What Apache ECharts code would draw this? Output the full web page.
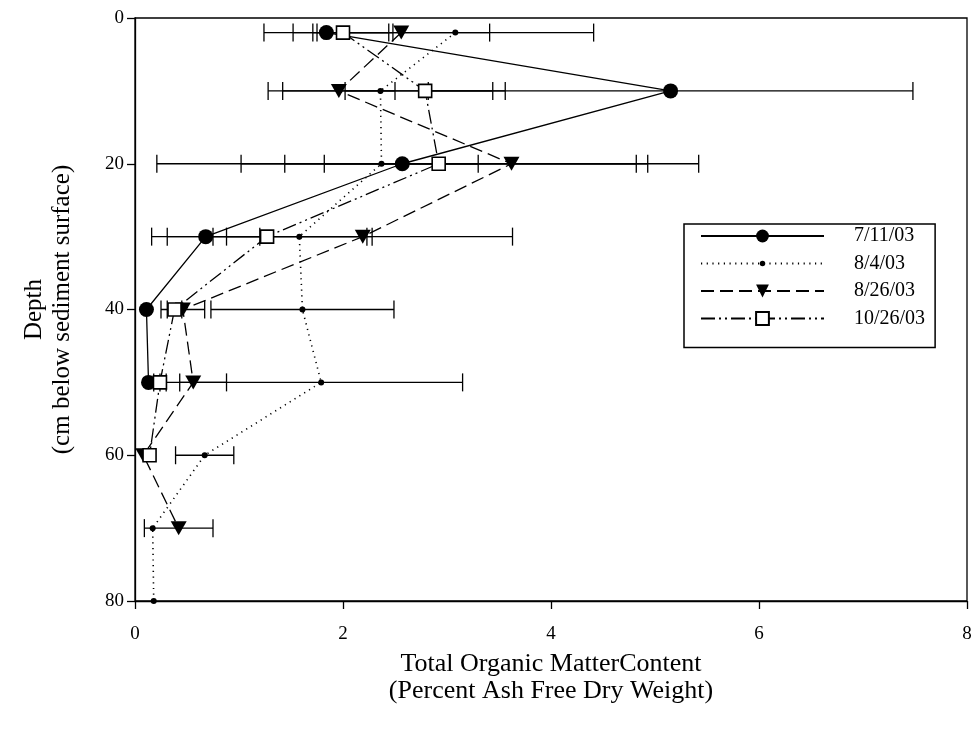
<!DOCTYPE html>
<html lang="en">
<head>
    <meta charset="UTF-8">
    <title>Organic matter by depth</title>
    <script src="https://cdn.jsdelivr.net/npm/echarts@6/dist/echarts.min.js"></script>
    <style>
    body{ margin:0; background:#fff; }
    #main{ width:976px; height:733px; }
    </style>
</head>
<body>
<div id="main"></div>
<script>
// sample depths (cm) shared by all dates
var depths = [2, 10, 20, 30, 40, 50, 60, 70, 80];
var seriesNames = ['7/11/03', '8/4/03', '8/26/03', '10/26/03'];

// % AFDW per date, and the +/- error
var jul11 = [1.84, 5.15, 2.57, 0.68, 0.11, 0.13];
var jul11Err = [0.60, 2.33, 2.36, 0.52, 0, 0];
var aug4 = [3.08, 2.36, 2.37, 1.58, 1.61, 1.79, 0.67, 0.17, 0.18];
var aug4Err = [1.33, 1.08, 0.93, 0.70, 0.88, 1.36, 0.28, 0, 0];
var aug26 = [2.56, 1.96, 3.62, 2.19, 0.46, 0.56, 0.08, 0.42];
var aug26Err = [0.85, 0.54, 1.80, 1.44, 0.21, 0.32, 0, 0.33];
var oct26 = [2.00, 2.79, 2.92, 1.27, 0.38, 0.24, 0.14];
var oct26Err = [0.48, 0.77, 1.90, 0.96, 0.07, 0.06, 0];

var xTicks = [0, 2, 4, 6, 8];
var yTicks = [0, 20, 40, 60, 80];

var font = 'Liberation Serif, Times New Roman, serif';

function pts(vals){
    return vals.map(function(v, i){ return [v, depths[i]]; });
}
// error bar rows: [mean, depth, err]
var errRows = [];
[[jul11, jul11Err], [aug4, aug4Err], [aug26, aug26Err], [oct26, oct26Err]].forEach(function(p){
    p[0].forEach(function(v, i){
        if (p[1][i] > 0) errRows.push([v, depths[i], p[1][i]]);
    });
});

var myChart = echarts.init(document.getElementById('main'));
var lineW = 1.3;
var option = {
    animation: false,
    backgroundColor: '#fff',
    grid: {
        left: 135, right: 9, top: 18, bottom: 132,
        show: true, borderColor: '#000', borderWidth: lineW, backgroundColor: 'transparent'
    },
    legend: {
        orient: 'vertical',
        left: 684, top: 224,
        padding: [2, 10, 19, 16],
        itemWidth: 123, itemHeight: 16, itemGap: 7.5,
        borderColor: '#000', borderWidth: 1.5,
        backgroundColor: '#fff',
        textStyle: { fontFamily: font, fontSize: 20, color: '#000', padding: [0, 0, 0, 25] },
        data: seriesNames
    },
    xAxis: {
        type: 'value', min: xTicks[0], max: xTicks[xTicks.length - 1], interval: 2,
        name: 'Total Organic MatterContent\n(Percent Ash Free Dry Weight)',
        nameLocation: 'middle', nameGap: 50,
        nameTextStyle: { fontFamily: font, fontSize: 26, color: '#000', lineHeight: 27 },
        splitLine: { show: false },
        axisLine: { onZero: false, lineStyle: { color: '#000', width: lineW } },
        axisTick: { length: 8, lineStyle: { color: '#000', width: lineW } },
        axisLabel: { fontFamily: font, fontSize: 19, color: '#000', margin: 24 }
    },
    yAxis: {
        type: 'value', inverse: true, min: yTicks[0], max: yTicks[yTicks.length - 1], interval: 20,
        name: 'Depth\n(cm below sediment surface)',
        nameLocation: 'middle', nameGap: 59, nameRotate: 90,
        nameTextStyle: { fontFamily: font, fontSize: 25, color: '#000', lineHeight: 28 },
        splitLine: { show: false },
        axisLine: { onZero: false, lineStyle: { color: '#000', width: lineW } },
        axisTick: { length: 8, lineStyle: { color: '#000', width: lineW } },
        axisLabel: { fontFamily: font, fontSize: 19, color: '#000', margin: 11 }
    },
    series: [
        {
            name: 'err', type: 'custom', z: 1,
            data: errRows,
            renderItem: function(params, api){
                var x = api.value(0), y = api.value(1), e = api.value(2);
                var lo = api.coord([x - e, y]), hi = api.coord([x + e, y]);
                var h = 9, st = { stroke: '#000', lineWidth: lineW };
                return { type: 'group', children: [
                    { type: 'line', shape: { x1: lo[0], y1: lo[1], x2: hi[0], y2: hi[1] }, style: st },
                    { type: 'line', shape: { x1: lo[0], y1: lo[1] - h, x2: lo[0], y2: lo[1] + h }, style: st },
                    { type: 'line', shape: { x1: hi[0], y1: hi[1] - h, x2: hi[0], y2: hi[1] + h }, style: st }
                ]};
            }
        },
        {
            name: seriesNames[0], type: 'line', z: 3, data: pts(jul11),
            symbol: 'circle', symbolSize: 15,
            itemStyle: { color: '#000' },
            lineStyle: { color: '#000', width: lineW, type: 'solid' }
        },
        {
            name: seriesNames[1], type: 'line', z: 3, data: pts(aug4),
            symbol: 'path://M0,0M14,14M4,7a3,3 0 1,0 6,0a3,3 0 1,0 -6,0z', symbolSize: 14,
            itemStyle: { color: '#000' },
            lineStyle: { color: '#000', width: 1.6, type: [1.2, 4.5] }
        },
        {
            name: seriesNames[2], type: 'line', z: 3, data: pts(aug26),
            symbol: 'path://M0,0L16,0L8,14z', symbolSize: [16, 14],
            itemStyle: { color: '#000' },
            lineStyle: { color: '#000', width: lineW, type: [13, 6] }
        },
        {
            name: seriesNames[3], type: 'line', z: 3, data: pts(oct26),
            symbol: 'rect', symbolSize: 13,
            itemStyle: { color: '#fff', borderColor: '#000', borderWidth: 1.6 },
            lineStyle: { color: '#000', width: lineW, type: [14, 4, 2, 4, 2, 4] }
        }
    ]
};
myChart.setOption(option);
</script>
</body>
</html>
